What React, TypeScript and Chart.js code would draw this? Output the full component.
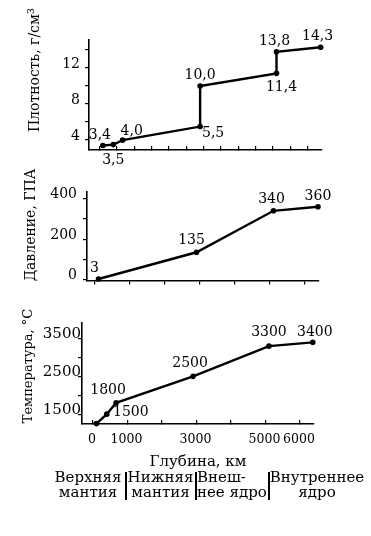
import React, { useEffect, useRef } from "react";
import { Chart, registerables } from "chart.js";

Chart.register(...registerables);

// ---------- data ----------
const DEPTH_DENSITY = [100, 400, 670, 2900, 2900, 5100, 5100, 6371];
const DENSITY = [3.4, 3.5, 4.0, 5.5, 10.0, 11.4, 13.8, 14.3];
const DENSITY_LABELS = ["3,4", "3,5", "4,0", "5,5", "10,0", "11,4", "13,8", "14,3"];

const DEPTH_PRESSURE = [100, 2900, 5100, 6371];
const PRESSURE = [3, 135, 340, 360];
const PRESSURE_LABELS = ["3", "135", "340", "360"];

const DEPTH_TEMP = [100, 400, 670, 2900, 5100, 6371];
const TEMP = [1250, 1500, 1800, 2500, 3300, 3400];
const TEMP_LABELS = ["", "1500", "1800", "2500", "3300", "3400"];

const DEPTH_TICKS_FINE = [0, 500, 1000, 1500, 2000, 2500, 3000, 3500, 4000, 4500, 5000, 5500, 6000];
const DEPTH_TICKS = [0, 1000, 2000, 3000, 4000, 5000, 6000];
const DEPTH_TICK_LABELS = ["0", "1000", "", "3000", "", "5000", "6000"];
const DENSITY_TICKS = [4, 6, 8, 10, 12, 14];
const DENSITY_TICK_LABELS = ["4", "", "8", "", "12", ""];
const PRESSURE_TICKS = [0, 100, 200, 300, 400];
const PRESSURE_TICK_LABELS = ["0", "", "200", "", "400"];
const TEMP_TICKS = [1500, 2000, 2500, 3000, 3500];
const TEMP_TICK_LABELS = ["1500", "", "2500", "", "3500"];

const LAYERS = [
  { lines: ["Верхняя", "мантия"], align: "center" },
  { lines: ["Нижняя", "мантия"], align: "center" },
  { lines: ["Внеш-", "нее ядро"], align: "left" },
  { lines: ["Внутреннее", "ядро"], align: "center" },
];

// ---------- styling / layout ----------
const FONT = "'DejaVu Serif', 'Liberation Serif', serif";
const W = 371;

const pointLabelsPlugin = {
  id: "pointLabels",
  afterDatasetsDraw(chart: any, _args: any, opts: any) {
    const { labels, offsets, size } = opts;
    const ctx = chart.ctx;
    const meta = chart.getDatasetMeta(0);
    ctx.save();
    ctx.font = `${size}px ${FONT}`;
    ctx.fillStyle = "#000";
    ctx.textAlign = "center";
    ctx.textBaseline = "middle";
    meta.data.forEach((el: any, i: number) => {
      if (!labels[i]) return;
      ctx.fillText(labels[i], el.x + offsets[i][0], el.y + offsets[i][1]);
    });
    ctx.restore();
  },
};

type Cfg = {
  top: number;
  height: number;
  areaTop: number;
  areaBottom: number;
  left: number;
  right: number;
  xmin: number;
  xmax: number;
  ymin: number;
  ymax: number;
  xs: number[];
  ys: number[];
  labels: string[];
  offsets: number[][];
  xTicks: number[];
  xTickLabels: string[] | null;
  xTickLen: number;
  xPad: number;
  yTicks: number[];
  yTickLabels: string[];
  yPad: number;
  yFont: number;
};

function makeConfig(c: Cfg): any {
  return {
    type: "line",
    data: {
      datasets: [
        {
          data: c.xs.map((x, i) => ({ x, y: c.ys[i] })),
          borderColor: "#000",
          borderWidth: 2.4,
          pointRadius: 2.8,
          pointBackgroundColor: "#000",
          pointBorderWidth: 0,
          tension: 0,
          clip: false,
        },
      ],
    },
    options: {
      animation: false,
      responsive: false,
      devicePixelRatio: 1,
      layout: {
        padding: { left: 0, top: c.areaTop - c.top, right: W - c.right, bottom: 0 },
      },
      plugins: {
        legend: { display: false },
        tooltip: { enabled: false },
        pointLabels: { labels: c.labels, offsets: c.offsets, size: 14 },
      },
      scales: {
        x: {
          type: "linear",
          min: c.xmin,
          max: c.xmax,
          afterBuildTicks: (s: any) => {
            s.ticks = c.xTicks.map((v) => ({ value: v }));
          },
          afterFit: (s: any) => {
            s.height = c.top + c.height - c.areaBottom;
          },
          ticks: {
            display: !!c.xTickLabels,
            autoSkip: false,
            maxRotation: 0,
            color: "#000",
            padding: c.xPad,
            labelOffset: -1,
            font: { family: FONT, size: 12.5 },
            callback: (v: number) => {
              const i = c.xTicks.indexOf(v);
              return c.xTickLabels && i >= 0 ? c.xTickLabels[i] : "";
            },
          },
          grid: { drawOnChartArea: false, tickLength: c.xTickLen, color: "#000", lineWidth: 1.2 },
          border: { color: "#000", width: 1.6 },
        },
        y: {
          type: "linear",
          min: c.ymin,
          max: c.ymax,
          afterBuildTicks: (s: any) => {
            s.ticks = c.yTicks.map((v) => ({ value: v }));
          },
          afterFit: (s: any) => {
            s.width = c.left;
          },
          ticks: {
            autoSkip: false,
            color: "#000",
            padding: c.yPad,
            labelOffset: -4,
            font: { family: FONT, size: c.yFont },
            callback: (v: number) => {
              const i = c.yTicks.indexOf(v);
              return i >= 0 ? c.yTickLabels[i] : "";
            },
          },
          grid: { drawOnChartArea: false, tickLength: 4, color: "#000", lineWidth: 1.2 },
          border: { color: "#000", width: 1.6 },
        },
      },
    },
    plugins: [pointLabelsPlugin],
  };
}

const CHARTS: Cfg[] = [
  {
    top: 0,
    height: 172,
    areaTop: 40,
    areaBottom: 150,
    left: 89,
    right: 322,
    xmin: -300,
    xmax: 6410,
    ymin: 2.9,
    ymax: 15.1,
    xs: DEPTH_DENSITY,
    ys: DENSITY,
    labels: DENSITY_LABELS,
    offsets: [
      [-3, -10],
      [0, 16],
      [9, -9],
      [13, 7],
      [0, -11],
      [5, 14],
      [-2, -10],
      [-3, -11],
    ],
    xTicks: DEPTH_TICKS_FINE,
    xTickLabels: null,
    xTickLen: -4,
    xPad: 1,
    yTicks: DENSITY_TICKS,
    yTickLabels: DENSITY_TICK_LABELS,
    yPad: 5,
    yFont: 14,
  },
  {
    top: 165,
    height: 130,
    areaTop: 192,
    areaBottom: 281,
    left: 87,
    right: 319,
    xmin: -229,
    xmax: 6400,
    ymin: -5,
    ymax: 433,
    xs: DEPTH_PRESSURE,
    ys: PRESSURE,
    labels: PRESSURE_LABELS,
    offsets: [
      [-4, -11],
      [-5, -12],
      [-2, -11],
      [0, -10],
    ],
    xTicks: DEPTH_TICKS,
    xTickLabels: null,
    xTickLen: 4,
    xPad: 1,
    yTicks: PRESSURE_TICKS,
    yTickLabels: PRESSURE_TICK_LABELS,
    yPad: 6,
    yFont: 14,
  },
  {
    top: 295,
    height: 155,
    areaTop: 323,
    areaBottom: 424,
    left: 82,
    right: 314,
    xmin: -319,
    xmax: 6406,
    ymin: 1240,
    ymax: 3912,
    xs: DEPTH_TEMP,
    ys: TEMP,
    labels: TEMP_LABELS,
    offsets: [
      [0, 0],
      [24, -2],
      [-8, -12],
      [-3, -13],
      [0, -14],
      [2, -10],
    ],
    xTicks: DEPTH_TICKS,
    xTickLabels: DEPTH_TICK_LABELS,
    xTickLen: -4,
    xPad: 12,
    yTicks: TEMP_TICKS,
    yTickLabels: TEMP_TICK_LABELS,
    yPad: -3,
    yFont: 15,
  },
];

function ChartCanvas({ cfg }: { cfg: Cfg }) {
  const ref = useRef<HTMLCanvasElement | null>(null);
  useEffect(() => {
    if (!ref.current) return;
    const chart = new Chart(ref.current, makeConfig(cfg));
    return () => chart.destroy();
  }, [cfg]);
  return (
    <canvas
      ref={ref}
      width={W}
      height={cfg.height}
      style={{ position: "absolute", left: 0, top: cfg.top, width: W, height: cfg.height }}
    />
  );
}

const textBase: React.CSSProperties = {
  position: "absolute",
  fontFamily: FONT,
  color: "#000",
  whiteSpace: "nowrap",
  lineHeight: 1,
};

function YTitle({ text, cx, cy, size }: { text: React.ReactNode; cx: number; cy: number; size: number }) {
  return (
    <div
      style={{
        ...textBase,
        left: cx,
        top: cy,
        fontSize: size,
        transform: "translate(-50%, -50%) rotate(-90deg)",
      }}
    >
      {text}
    </div>
  );
}

export default function App() {
  const cols = [
    { left: 50, width: 76 },
    { left: 126, width: 69 },
    { left: 197, width: 71 },
    { left: 269, width: 96 },
  ];
  return (
    <div style={{ position: "absolute", left: 0, top: 0, width: W, height: 536, background: "#fff", overflow: "hidden" }}>
      {CHARTS.map((c, i) => (
        <ChartCanvas key={i} cfg={c} />
      ))}
      <YTitle
        text={
          <span>
            Плотность, г/см<sup style={{ fontSize: "0.7em", verticalAlign: "0.5em", lineHeight: 0 }}>3</sup>
          </span>
        }
        cx={34}
        cy={70}
        size={14}
      />
      <YTitle text="Давление, ГПА" cx={30} cy={225} size={14} />
      <YTitle text="Температура, °C" cx={27} cy={366} size={13} />
      <div style={{ ...textBase, left: 198, top: 461, fontSize: 15, transform: "translate(-50%, -50%)" }}>
        Глубина, км
      </div>
      {LAYERS.map((l, i) => (
        <div
          key={i}
          style={{
            ...textBase,
            left: cols[i].left,
            top: 470,
            width: cols[i].width,
            fontSize: 15,
            lineHeight: "15px",
            textAlign: l.align as any,
          }}
        >
          <div>{l.lines[0]}</div>
          <div>{l.lines[1]}</div>
        </div>
      ))}
      {[125, 195, 268].map((x, i) => (
        <div key={i} style={{ position: "absolute", left: x, top: 472, width: 2, height: 28, background: "#000" }} />
      ))}
    </div>
  );
}
